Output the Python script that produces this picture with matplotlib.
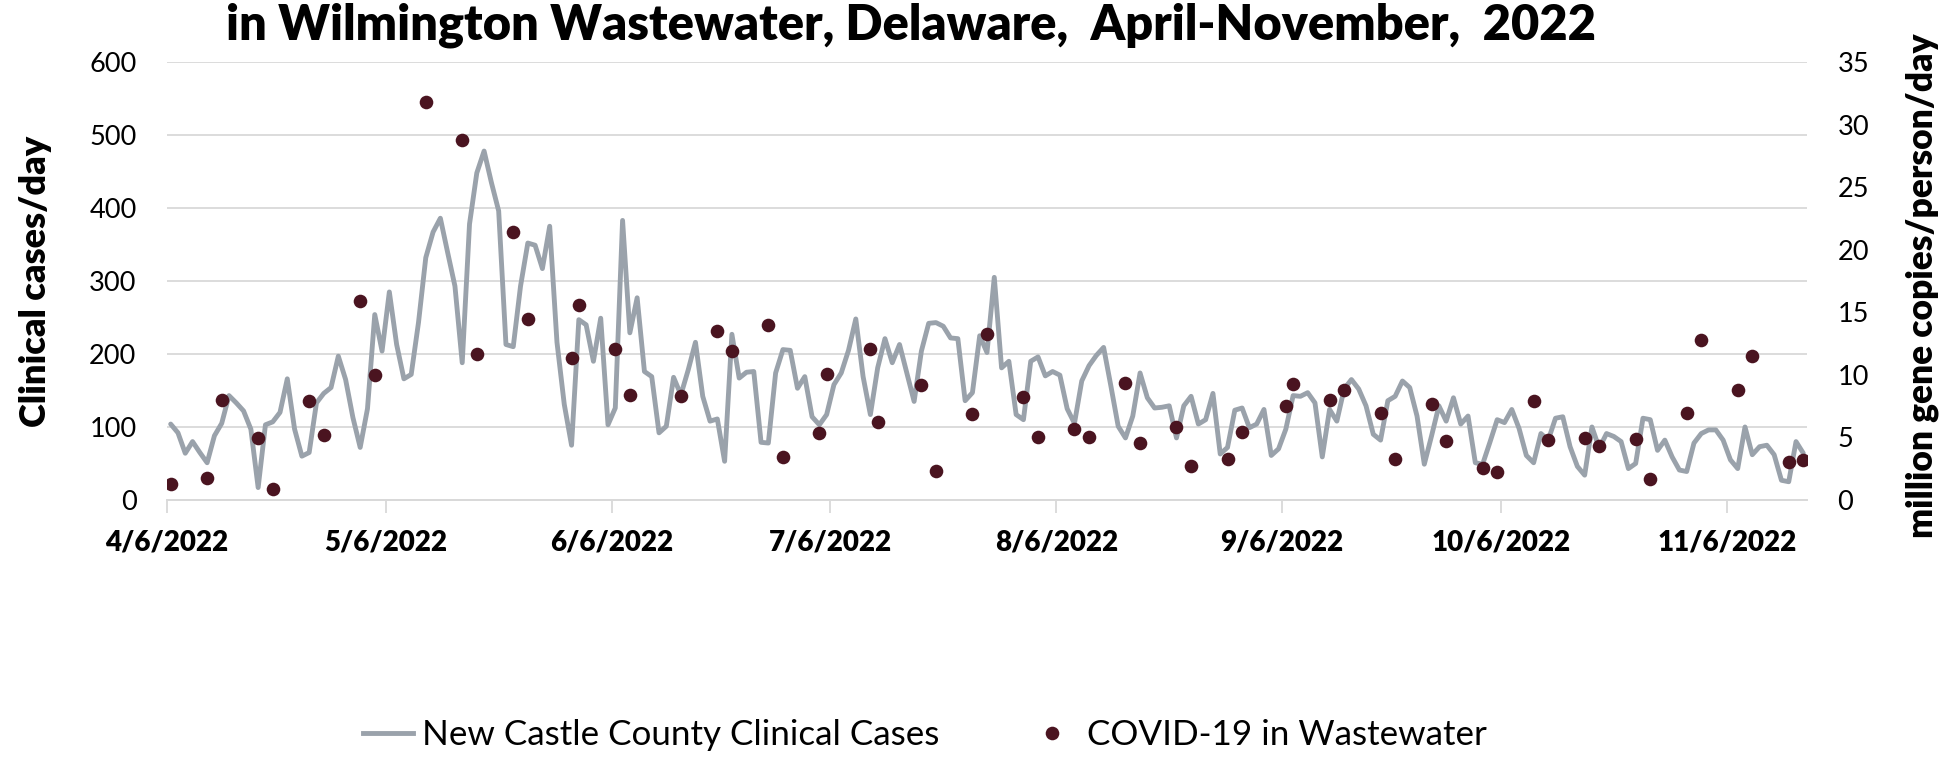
import datetime as dt
import matplotlib
matplotlib.use("Agg")
import matplotlib.pyplot as plt
import matplotlib.dates as mdates
from matplotlib.lines import Line2D

# ---------------- data ----------------
start_date = "2022-04-06"
clinical_cases = [
    104, 92, 64, 80, 65, 51, 88, 105, 143, 133, 122, 97, 17, 103, 107, 120, 166, 97, 60, 65,
    133, 146, 154, 197, 165, 113, 72, 125, 254, 204, 285, 213, 166, 172, 243, 332, 367, 386, 339, 293,
    188, 378, 448, 478, 435, 396, 213, 210, 293, 352, 349, 317, 375, 216, 131, 75, 247, 240, 190, 249,
    103, 126, 383, 229, 277, 176, 169, 92, 101, 168, 144, 178, 216, 142, 108, 111, 53, 227, 167, 175,
    176, 79, 78, 174, 206, 205, 153, 169, 114, 103, 117, 158, 174, 205, 248, 169, 117, 181, 221, 188,
    213, 174, 135, 204, 242, 243, 238, 222, 221, 136, 147, 225, 202, 305, 181, 190, 117, 110, 190, 196,
    170, 176, 171, 125, 105, 163, 184, 198, 209, 156, 101, 85, 115, 174, 140, 126, 127, 129, 85, 129,
    142, 104, 110, 146, 63, 72, 123, 126, 99, 104, 124, 61, 70, 97, 143, 142, 147, 133, 59, 124,
    108, 152, 165, 152, 129, 90, 82, 136, 142, 163, 154, 115, 49, 88, 129, 108, 140, 104, 115, 51,
    49, 79, 110, 106, 124, 98, 61, 51, 91, 82, 112, 114, 73, 46, 34, 100, 71, 91, 87, 80,
    43, 50, 112, 110, 68, 82, 59, 41, 39, 78, 91, 96, 96, 82, 55, 43, 100, 62, 73, 75,
    62, 27, 25, 80, 64,
]

ww_dates = [
    "2022-04-06", "2022-04-11", "2022-04-13", "2022-04-18", "2022-04-20", "2022-04-25", "2022-04-27",
    "2022-05-02", "2022-05-04", "2022-05-11", "2022-05-16", "2022-05-18", "2022-05-23", "2022-05-25",
    "2022-05-31", "2022-06-01", "2022-06-06", "2022-06-08", "2022-06-15", "2022-06-20", "2022-06-22",
    "2022-06-27", "2022-06-29", "2022-07-04", "2022-07-05", "2022-07-11", "2022-07-12", "2022-07-18",
    "2022-07-20", "2022-07-25", "2022-07-27", "2022-08-01", "2022-08-03", "2022-08-08", "2022-08-10",
    "2022-08-15", "2022-08-17", "2022-08-22", "2022-08-24", "2022-08-29", "2022-08-31", "2022-09-06",
    "2022-09-07", "2022-09-12", "2022-09-14", "2022-09-19", "2022-09-21", "2022-09-26", "2022-09-28",
    "2022-10-03", "2022-10-05", "2022-10-10", "2022-10-12", "2022-10-17", "2022-10-19", "2022-10-24",
    "2022-10-26", "2022-10-31", "2022-11-02", "2022-11-07", "2022-11-09", "2022-11-14", "2022-11-16",
]
ww_values = [
    1.31, 1.79, 7.97, 4.93, 0.85, 7.92, 5.23,
    15.9, 10.0, 31.84, 28.8, 11.7, 21.44, 14.5,
    11.35, 15.55, 12.05, 8.4, 8.32, 13.47, 11.87,
    13.95, 3.41, 5.33, 10.08, 12.05, 6.21, 9.2,
    2.35, 6.85, 13.3, 8.19, 5.07, 5.68, 5.07,
    9.33, 4.59, 5.87, 2.72, 3.25, 5.44, 7.52,
    9.25, 7.97, 8.77, 6.93, 3.31, 7.65, 4.72,
    2.59, 2.2, 7.9, 4.83, 4.93, 4.35, 4.88,
    1.68, 6.93, 12.8, 8.8, 11.47, 3.01, 3.2,
]

title_text = "in Wilmington Wastewater, Delaware,  April-November,  2022"
left_label = "Clinical cases/day"
right_label = "million gene copies/person/day"
line_label = "New Castle County Clinical Cases"
dot_label = "COVID-19 in Wastewater"

# ---------------- styling ----------------
FONT = ["Lato", "DejaVu Sans"]
plt.rcParams["font.family"] = FONT
LINE_COLOR = "#9AA2AB"
DOT_COLOR = "#4A1420"
GRID_COLOR = "#D9D9D9"

t0 = dt.datetime.strptime(start_date, "%Y-%m-%d")
half = dt.timedelta(hours=12)
line_x = [t0 + dt.timedelta(days=i) + half for i in range(len(clinical_cases))]
dot_x = [dt.datetime.strptime(s, "%Y-%m-%d") + half for s in ww_dates]

fig = plt.figure(figsize=(19.56, 7.58), dpi=100)
ax = fig.add_axes([0.0854, 0.3404, 0.8384, 0.5778])
ax2 = ax.twinx()

ax.plot(line_x, clinical_cases, color=LINE_COLOR, lw=3.5, solid_joinstyle="round",
        solid_capstyle="round", zorder=3)
ax2.plot(dot_x, ww_values, linestyle="none", marker="o", ms=9.8, color=DOT_COLOR,
         markeredgewidth=0, zorder=4)

ax.set_ylim(0, 600)
ax2.set_ylim(0, 35)
ax.set_yticks(range(0, 601, 100))
ax2.set_yticks(range(0, 36, 5))
ax.set_xlim(t0, t0 + dt.timedelta(days=225))

ax.xaxis.set_major_locator(mdates.MonthLocator(bymonthday=6))
ax.xaxis.set_major_formatter(
    matplotlib.ticker.FuncFormatter(lambda v, p: (lambda d: f"{d.month}/{d.day}/{d.year}")(mdates.num2date(v)))
)

ax.grid(axis="y", color=GRID_COLOR, lw=1.3, zorder=0)
ax.set_axisbelow(True)
for a in (ax, ax2):
    for s in ("left", "right", "top"):
        a.spines[s].set_visible(False)
    a.spines["bottom"].set_color(GRID_COLOR)
    a.spines["bottom"].set_linewidth(1.3)

ax.tick_params(axis="x", direction="out", length=9, width=1.3, color=GRID_COLOR, pad=12,
               labelsize=20)
for lab in ax.get_xticklabels():
    lab.set_fontweight("heavy")
ax.tick_params(axis="y", length=0, pad=22, labelsize=19.5)
ax2.tick_params(axis="y", length=0, pad=22, labelsize=19.5)

ax.set_ylabel(left_label, fontsize=26, fontweight="heavy")
ax.yaxis.label.set_va("center")
ax.yaxis.set_label_coords(-0.0805, 0.5)
ax2.set_ylabel(right_label, fontsize=25.5, fontweight="heavy", rotation=90)
ax2.yaxis.label.set_va("center")
ax2.yaxis.set_label_coords(1.0701, 0.49)

fig.text(0.4657, 1 - 40 / 758, title_text, ha="center", va="baseline",
         fontsize=35.1, fontweight="heavy")

handles = [
    Line2D([], [], color=LINE_COLOR, lw=3.5),
    Line2D([], [], color=DOT_COLOR, marker="o", ms=9.8, linestyle="none", markeredgewidth=0),
]
fig.legend(handles, [line_label, dot_label], loc="center", bbox_to_anchor=(0.4727, 0.03),
           ncol=2, frameon=False, fontsize=25.2, handlelength=1.45, handletextpad=0.25,
           columnspacing=2.5)

fig.savefig("out.png", dpi=100)
